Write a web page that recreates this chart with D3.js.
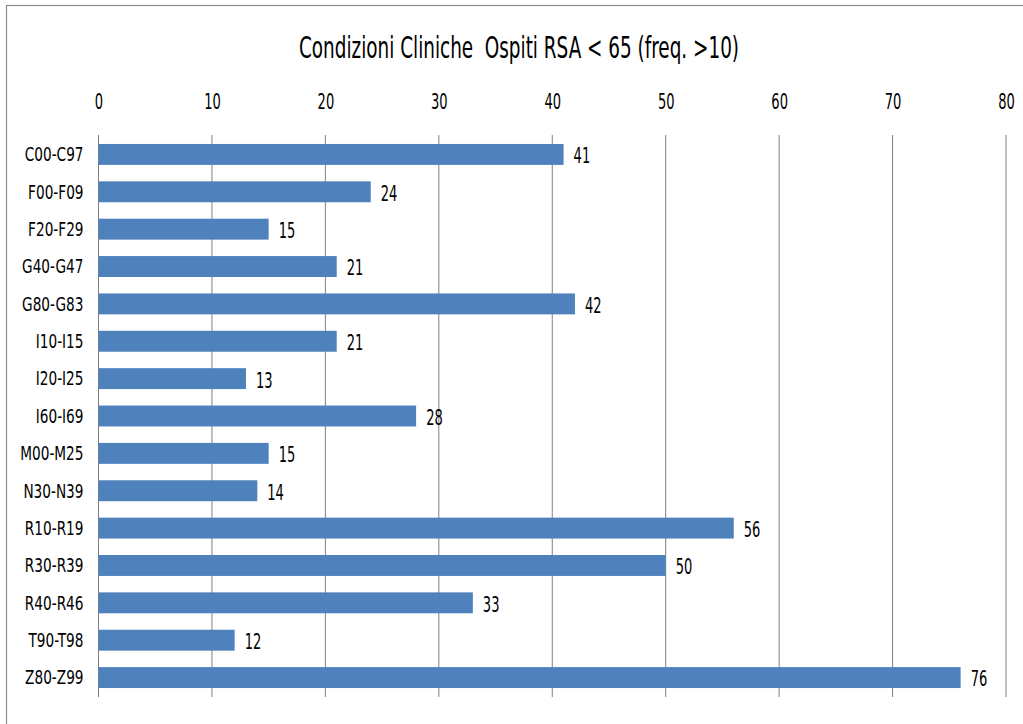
<!DOCTYPE html>
<html>
<head>
<meta charset="utf-8">
<script src="https://cdn.jsdelivr.net/npm/d3@7"></script>
<style>
  body { margin: 0; background: #fff; }
  text { font-family: "DejaVu Sans Condensed", "DejaVu Sans", sans-serif; fill: #000; }
</style>
</head>
<body>
<div id="content"></div>
<script>
// data
var categories = ["C00-C97", "F00-F09", "F20-F29", "G40-G47", "G80-G83", "I10-I15", "I20-I25",
                  "I60-I69", "M00-M25", "N30-N39", "R10-R19", "R30-R39", "R40-R46", "T90-T98", "Z80-Z99"];
var values = [41, 24, 15, 21, 42, 21, 13, 28, 15, 14, 56, 50, 33, 12, 76];
var tickValues = [0, 10, 20, 30, 40, 50, 60, 70, 80];
var title = "Condizioni Cliniche  Ospiti RSA < 65 (freq. >10)";

var W = 1023, H = 724;
var margin = {top: 135, right: 17, bottom: 27, left: 98.5},
    width = W - margin.left - margin.right,
    height = H - margin.top - margin.bottom;

// the original text is tall and narrow, so squeeze it horizontally
var catScale = 0.8, numScale = 0.66;
var fontFam = "\"DejaVu Sans Condensed\", \"DejaVu Sans\", sans-serif";

var svg = d3.select("#content")
  .append("svg")
    .attr("width", W)
    .attr("height", H);

// chart frame
svg.append("rect")
    .attr("x", 6.5).attr("y", 5.5)
    .attr("width", W).attr("height", H)
    .attr("fill", "none")
    .attr("stroke", "#8c8c8c")
    .attr("stroke-width", 1.2);

svg.append("text")
    .attr("transform", "translate(519,58) scale(0.66,1)")
    .attr("text-anchor", "middle")
    .style("font-size", "31px")
    .style("white-space", "pre")
    .text(title);

var g = svg.append("g")
    .attr("transform", "translate(" + margin.left + "," + margin.top + ")");

var x = d3.scaleLinear()
    .domain([0, 80])
    .range([0, width]);

var y = d3.scaleBand()
    .domain(categories)
    .range([0, height])
    .paddingInner(0.44)
    .paddingOuter(0.24);

// vertical gridlines
g.selectAll("line.grid")
  .data(tickValues)
  .enter()
  .append("line")
    .attr("class", "grid")
    .attr("x1", function(d) { return x(d); })
    .attr("x2", function(d) { return x(d); })
    .attr("y1", 0)
    .attr("y2", height)
    .attr("stroke", "#808080")
    .attr("stroke-width", 1);

// top axis labels
var xAxis = g.append("g")
    .call(d3.axisTop(x).tickValues(tickValues).tickSize(0).tickPadding(26));
xAxis.select(".domain").remove();
xAxis.selectAll("text")
    .attr("transform", "scale(" + numScale + ",1)")
    .style("font-size", "22px")
    .style("font-family", fontFam);

// category labels
var yAxis = g.append("g")
    .call(d3.axisLeft(y).tickSize(0).tickPadding(15));
yAxis.select(".domain").remove();
yAxis.selectAll("text")
    .attr("x", -15 / catScale)
    .attr("dy", "0.36em")
    .attr("transform", "scale(" + catScale + ",1)")
    .style("font-size", "19px")
    .style("font-family", fontFam);

g.selectAll("rect.bar")
  .data(values)
  .enter()
  .append("rect")
    .attr("class", "bar")
    .attr("x", x(0))
    .attr("y", function(d, i) { return y(categories[i]); })
    .attr("width", function(d) { return x(d) - x(0); })
    .attr("height", y.bandwidth())
    .style("fill", "#4f81bd");

g.selectAll("text.val")
  .data(values)
  .enter()
  .append("text")
    .attr("class", "val")
    .attr("transform", function(d, i) {
      return "translate(" + (x(d) + 10) + "," + (y(categories[i]) + y.bandwidth() / 2 + 1) + ") scale(" + numScale + ",1)";
    })
    .attr("dy", "0.36em")
    .style("font-size", "22px")
    .text(function(d) { return d; });
</script>
</body>
</html>
